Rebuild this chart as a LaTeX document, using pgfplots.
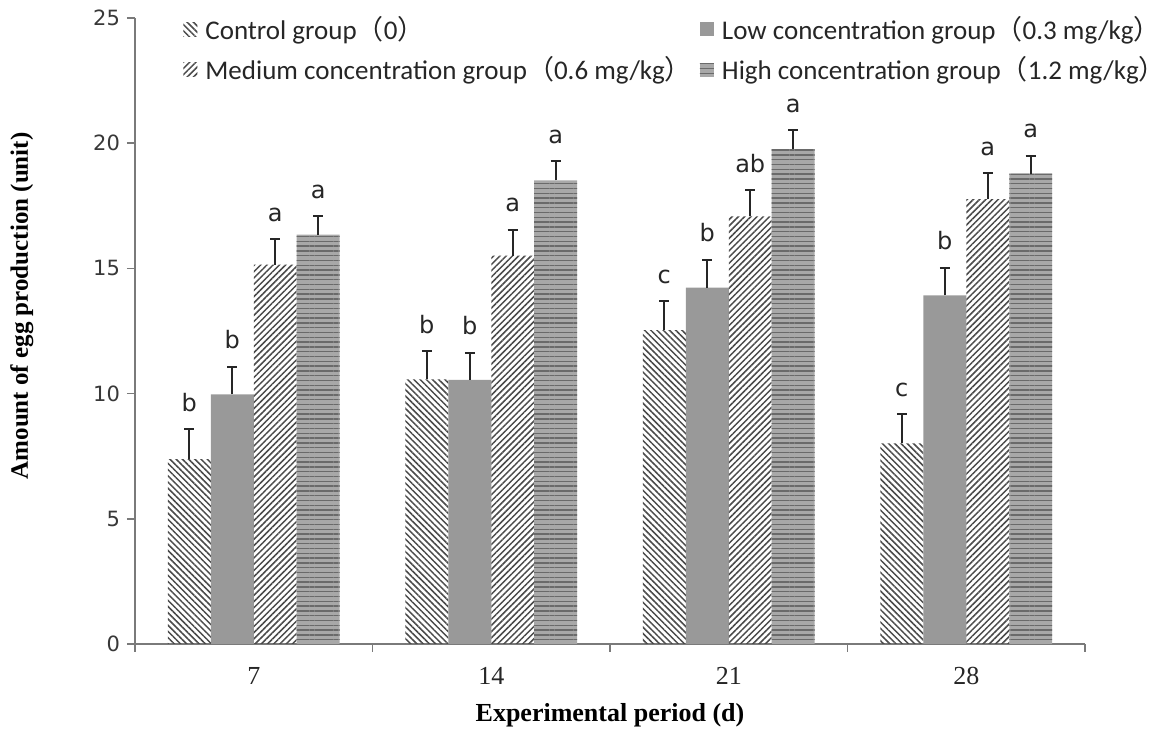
\documentclass[border=0pt]{standalone}
\usepackage{pgfplots}
\pgfplotsset{compat=1.18}
\usepackage{pgfplotstable}
\usepackage{fontspec}
\setmainfont{Liberation Serif}
\newfontfamily\dejavu{DejaVu Sans}
\newfontfamily\carlito{Carlito}
\newfontfamily\cjk{Noto Sans CJK SC}
\usetikzlibrary{patterns.meta}
\definecolor{axisgray}{HTML}{7A7A7A}
\definecolor{solidgray}{HTML}{999999}
\definecolor{hatch}{HTML}{4A4A4A}
\definecolor{highfill}{HTML}{A8A8A8}
\definecolor{highline}{HTML}{6A6A6A}

\pgfplotstableread{
x y err lab
0 7.38 1.19 b
1 10.57 1.12 b
2 12.53 1.16 c
3 8.01 1.16 c
}\control
\pgfplotstableread{
x y err lab
0 9.97 1.11 b
1 10.55 1.09 b
2 14.23 1.12 b
3 13.92 1.11 b
}\low
\pgfplotstableread{
x y err lab
0 15.15 1.03 a
1 15.51 1.04 a
2 17.08 1.06 ab
3 17.77 1.04 a
}\medium
\pgfplotstableread{
x y err lab
0 16.35 0.75 a
1 18.51 0.76 a
2 19.76 0.77 a
3 18.78 0.72 a
}\high

\begin{document}
\begin{tikzpicture}
\begin{axis}[name=ax, scale only axis, width=475pt, height=313pt,
  ybar, bar width=0.181,
  xmin=-0.5, xmax=3.5, ymin=0, ymax=25,
  axis x line*=bottom, axis y line*=left,
  axis line style={axisgray, line width=0.75pt},
  xtick={0,1,2,3}, xticklabels={7,14,21,28},
  major x tick style={draw=none},
  minor xtick={-0.5,0.5,1.5,2.5,3.5},
  ytick={0,5,10,15,20,25},
  tick style={axisgray, line width=0.75pt},
  tick align=outside, major tick length=4pt, minor tick length=4pt,
  /pgf/number format/assume math mode=true,
  yticklabel style={font=\dejavu\fontsize{10.5}{12}\selectfont, text=black!78, xshift=0pt},
  xticklabel style={font=\fontsize{13}{15}\selectfont, text=black!85, anchor=center, yshift=-12pt},
  ylabel={Amount of egg production (unit)},
  ylabel style={font=\bfseries\fontsize{12.5}{14}\selectfont, at={(axis description cs:-0.119,0.54)}, anchor=center},
  xlabel={Experimental period (d)},
  xlabel style={font=\bfseries\fontsize{13}{15}\selectfont, at={(axis description cs:0.5,-0.1134)}, anchor=center},
  legend columns=2, legend cell align=left,
  legend style={at={(rel axis cs:0,1)}, anchor=north west, xshift=24pt, yshift=3pt,
    draw=none, fill=none, inner sep=0pt, column sep=2pt, row sep=3pt,
    font=\carlito\fontsize{13.5}{16}\selectfont, text=black!85},
  legend image code/.code={\path[#1, draw=none] (0pt,-3.5pt) rectangle (7pt,3.5pt);},
  nodes near coords, point meta=explicit symbolic,
  visualization depends on={\thisrow{err} \as \myerr},
  nodes near coords style={font=\dejavu\fontsize{12}{13}\selectfont, text=black!85,
    anchor=south, inner sep=0pt, yshift=8.5pt, shift={(axis direction cs:0,\myerr)}},
  error bars/y dir=plus, error bars/y explicit,
  error bars/error bar style={draw=black!85, line width=1pt},
  error bars/error mark=-,
  error bars/error mark options={draw=black!85, line width=1pt, mark size=2.5pt, rotate=90},
]
\addplot[draw=none, bar shift=-0.2715,
  pattern={Lines[angle=-45,distance=2.2pt,line width=0.75pt]}, pattern color=hatch]
  table[x=x, y=y, y error=err, meta=lab]{\control};
\addlegendentry{Control group{\cjk （}0{\cjk ）}}
\addplot[draw=none, fill=solidgray, bar shift=-0.0905]
  table[x=x, y=y, y error=err, meta=lab]{\low};
\addlegendentry{Low concentration group{\cjk （}0.3 mg/kg{\cjk ）}}
\addplot[draw=none, bar shift=0.0905,
  pattern={Lines[angle=45,distance=2.2pt,line width=0.75pt]}, pattern color=hatch]
  table[x=x, y=y, y error=err, meta=lab]{\medium};
\addlegendentry{Medium concentration group{\cjk （}0.6 mg/kg{\cjk ）}}
\addplot[draw=none, fill=highfill, bar shift=0.2715,
  postaction={pattern={Lines[angle=0,distance=2.4pt,line width=0.7pt]}, pattern color=highline}]
  table[x=x, y=y, y error=err, meta=lab]{\high};
\addlegendentry{High concentration group{\cjk （}1.2 mg/kg{\cjk ）}}
\end{axis}
\pgfresetboundingbox
\path[use as bounding box] ([shift={(-67.5pt,-43.5pt)}]ax.south west) rectangle ([shift={(43pt,9pt)}]ax.north east);
\end{tikzpicture}
\end{document}
